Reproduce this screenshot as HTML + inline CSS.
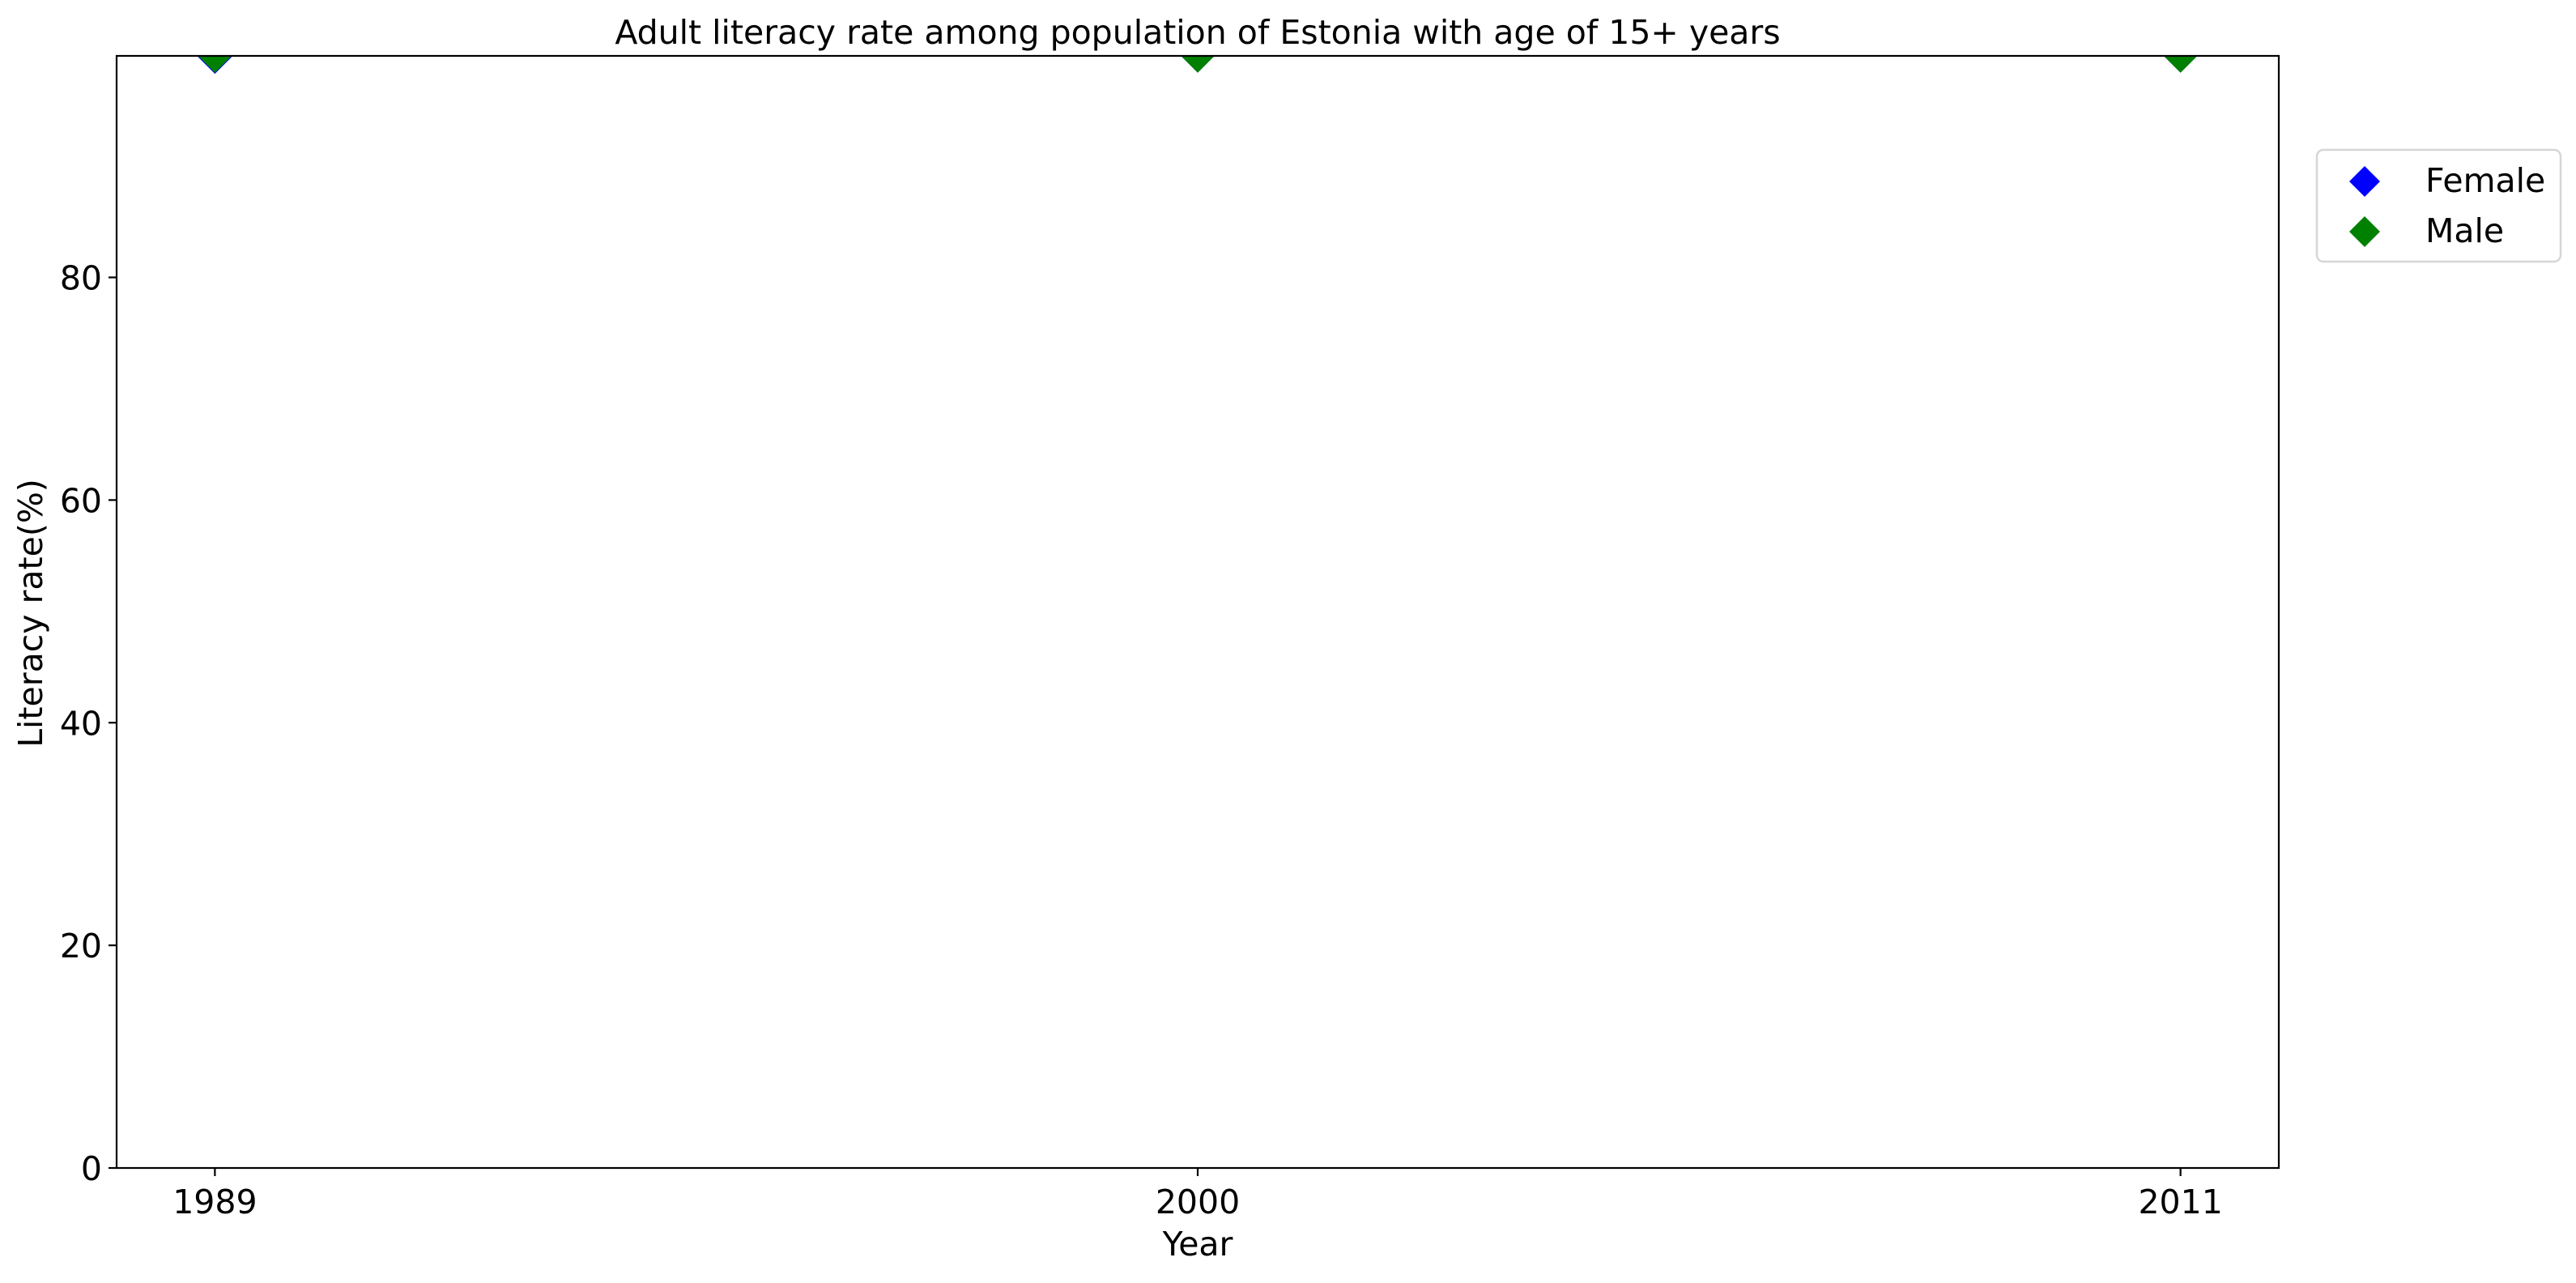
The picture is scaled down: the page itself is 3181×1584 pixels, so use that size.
<!DOCTYPE html>
<html><head><meta charset="utf-8"><style>
body{margin:0;background:#fff}
svg text{font-family:"DejaVu Sans","Liberation Sans",sans-serif;fill:#000}
</style></head><body>
<svg id="chart" width="3181" height="1579" viewBox="0 0 3181 1579" xmlns="http://www.w3.org/2000/svg">
<rect width="3181" height="1579" fill="#fff"/>
<text x="1479" y="54" font-size="41" text-anchor="middle">Adult literacy rate among population of Estonia with age of 15+ years</text>
<g id="plot"></g>
<rect x="144" y="69" width="2670" height="1373" fill="none" stroke="#000" stroke-width="2.2"/>
<text x="1479" y="1550" font-size="41" text-anchor="middle">Year</text>
<text transform="translate(52,757) rotate(-90)" font-size="41" text-anchor="middle">Literacy rate(%)</text>
<g>
<rect x="2861" y="185" width="301" height="138" rx="8" fill="#fff" fill-opacity="0.8" stroke="#d6d6d6" stroke-width="2.5"/>
<path d="M2920 205 L2939 224 L2920 243 L2901 224 Z" fill="#0000ff"/>
<text x="2995" y="237" font-size="41">Female</text>
<path d="M2920 267 L2939 286 L2920 305 L2901 286 Z" fill="#008000"/>
<text x="2995" y="299" font-size="41">Male</text>
</g>
</svg>
<script>
const years = [1989, 2000, 2011];
const female = [99.8, 99.9, 99.9];
const male = [99.9, 99.9, 99.9];
const yTicks = [0, 20, 40, 60, 80];
const xTicks = [1989, 2000, 2011];

const L=144,R=2814,T=69,B=1442;
const xMin=1987.9,xMax=2012.1,yMin=0,yMax=99.9;
const xs=v=>L+(v-xMin)/(xMax-xMin)*(R-L);
const ys=v=>B-(v-yMin)/(yMax-yMin)*(B-T);
const NS="http://www.w3.org/2000/svg";
const svg=document.getElementById('chart');
const plot=document.getElementById('plot');
function mk(tag,attrs,parent){const e=document.createElementNS(NS,tag);for(const k in attrs)e.setAttribute(k,attrs[k]);(parent||svg).appendChild(e);return e;}

yTicks.forEach(v=>{
  const y=ys(v);
  const t=mk('line',{x1:L-10,x2:L,y1:y,y2:y,stroke:'#000','stroke-width':2.2});
  
  
  const l=mk('text',{x:L-18,y:y+15,'font-size':41,'text-anchor':'end'});
  l.textContent=v;
  
  
});
xTicks.forEach(v=>{
  const x=xs(v);
  const t=mk('line',{x1:x,x2:x,y1:B,y2:B+10,stroke:'#000','stroke-width':2.2});
  
  
  const l=mk('text',{x:x,y:B+56,'font-size':41,'text-anchor':'middle'});
  l.textContent=v;
  
  
});
const cp=mk('clipPath',{id:'clip'});
mk('rect',{x:L,y:T,width:R-L,height:B-T},cp);
plot.setAttribute('clip-path','url(#clip)');
function diamond(x,y,fill,stroke){const s=19;return mk('path',{d:`M${x} ${y-s} L${x+s} ${y} L${x} ${y+s} L${x-s} ${y} Z`,fill:fill,stroke:stroke,'stroke-width':2.5},plot);}
years.forEach((yr,i)=>{
  const p=diamond(xs(yr),ys(female[i]),'#0000ff','#0000ff');
  
  
});
years.forEach((yr,i)=>{
  const p=diamond(xs(yr),ys(male[i]),'#008000','#008000');
  
  
});
</script>
</body></html>
